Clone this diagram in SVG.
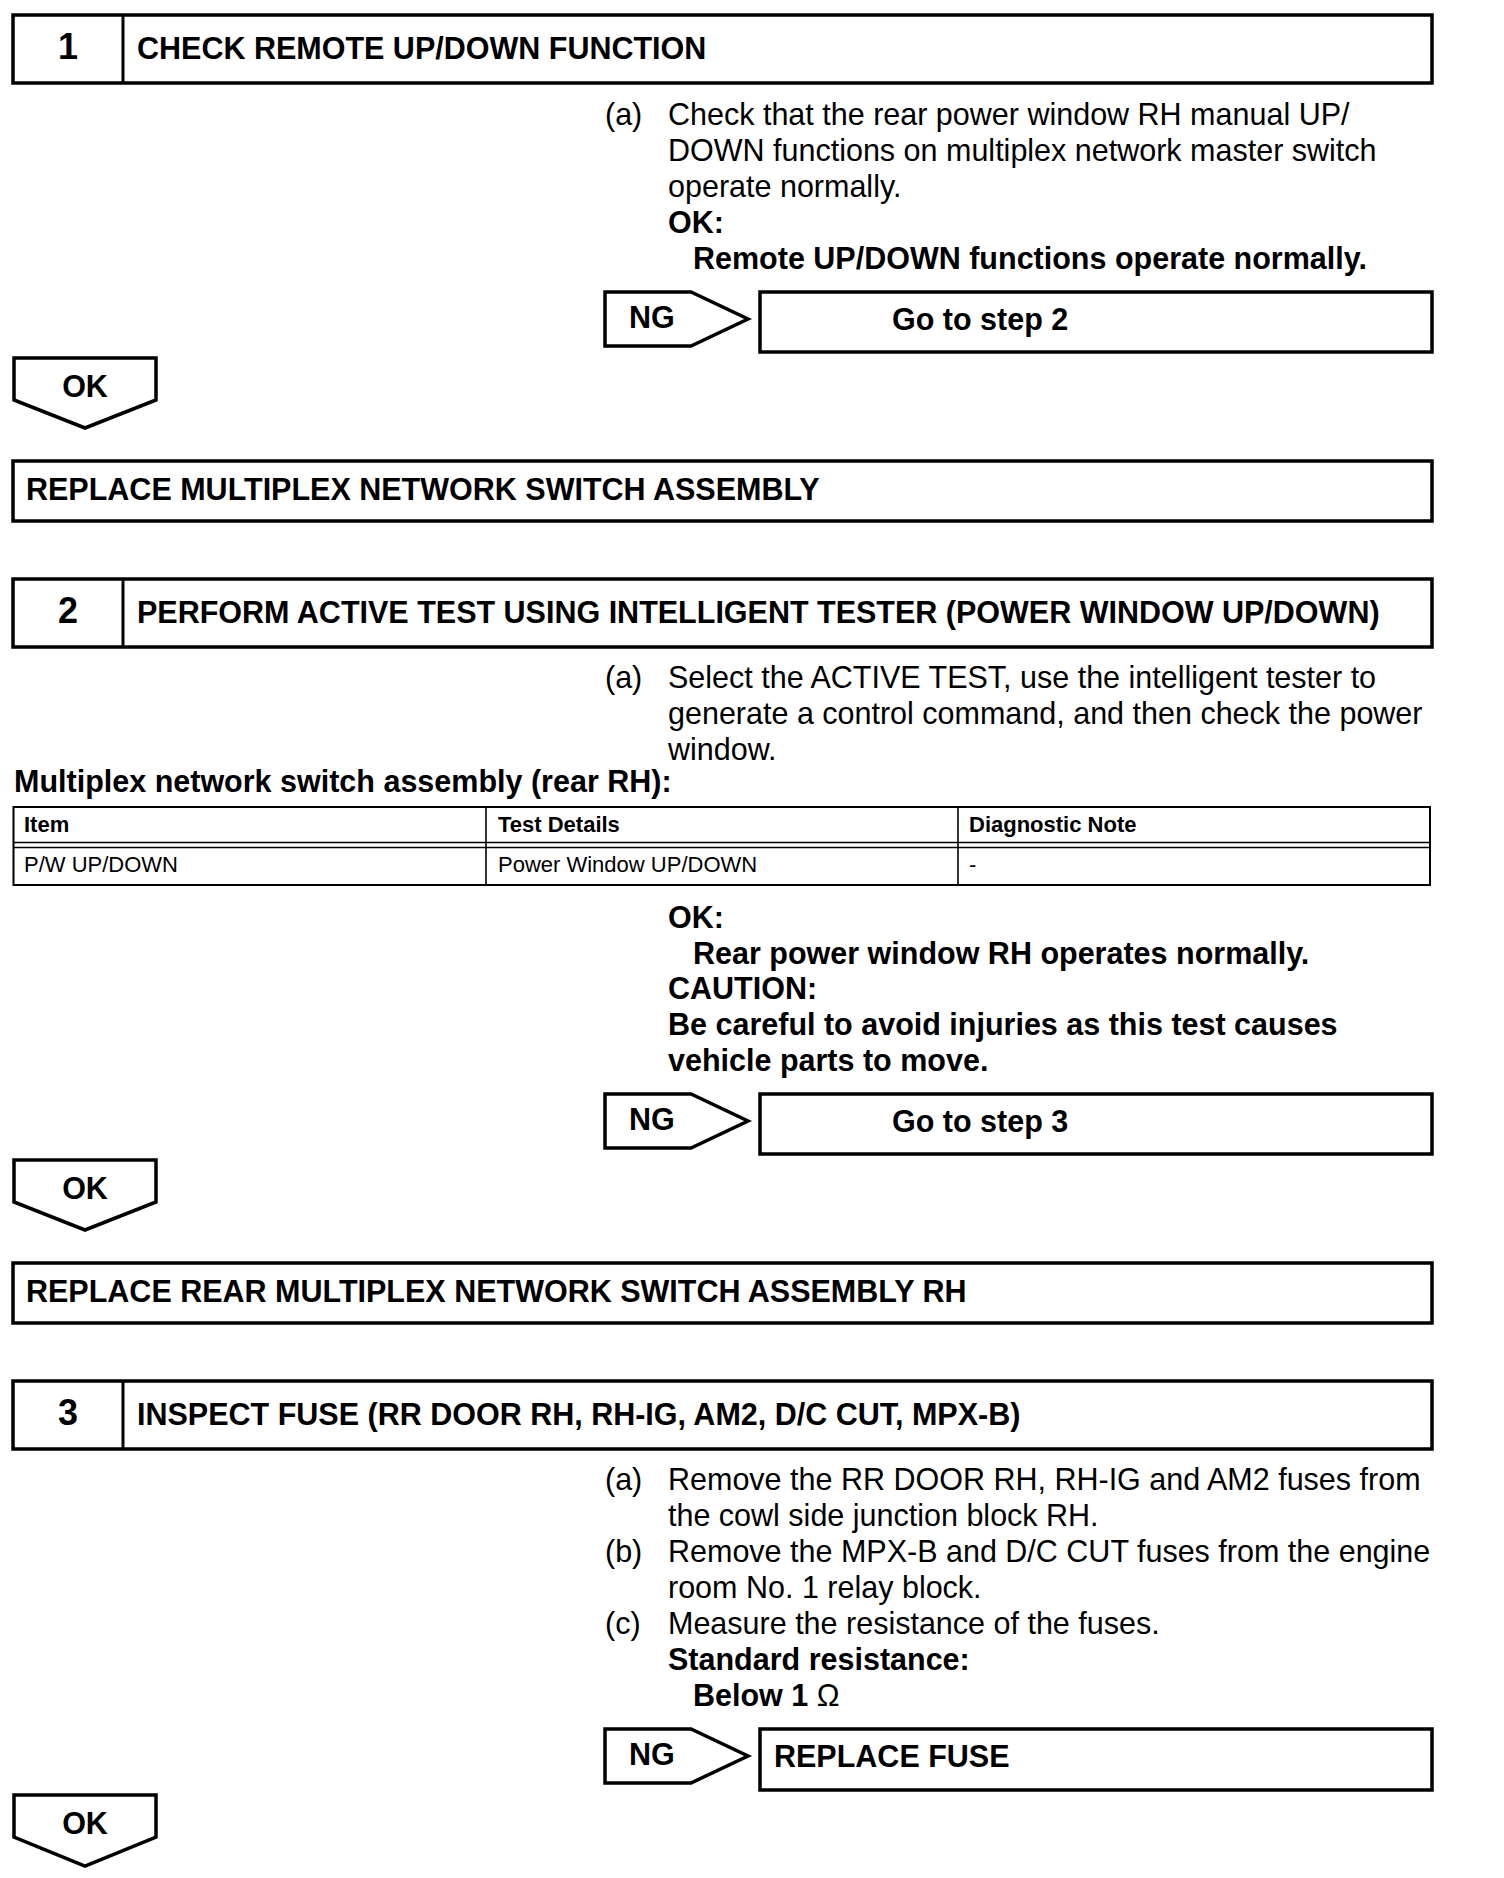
<svg xmlns="http://www.w3.org/2000/svg" width="1504" height="1878" viewBox="0 0 1504 1878">
<style>
text{font-family:"Liberation Sans",Arial,sans-serif;fill:#000}
.n{font-size:36px;font-weight:bold}
.h{font-size:30.5px;font-weight:bold}
.b{font-size:30.5px}
.bb{font-size:30.5px;font-weight:bold}
.t{font-size:22px}
.tb{font-size:22px;font-weight:bold}
.box{fill:#fff;stroke:#000;stroke-width:3.5}
.thin{fill:none;stroke:#000;stroke-width:2}
.tl{stroke:#000;stroke-width:1.6}
</style>
<rect width="1504" height="1878" fill="#fff"/>

<g id="step1-header">
<rect class="box" x="13" y="15" width="1419" height="68"/>
<line x1="123" y1="15" x2="123" y2="83" stroke="#000" stroke-width="3"/>
<text class="n" x="68" y="59" text-anchor="middle">1</text>
<text class="h" x="137" y="58.5">CHECK REMOTE UP/DOWN FUNCTION</text>
</g>
<g id="step1-text">
<text class="b" x="605" y="125">(a)</text>
<text class="b" x="668" y="125">Check that the rear power window RH manual UP/</text>
<text class="b" x="668" y="161">DOWN functions on multiplex network master switch</text>
<text class="b" x="668" y="197">operate normally.</text>
<text class="bb" x="668" y="233">OK:</text>
<text class="bb" x="693" y="269">Remote UP/DOWN functions operate normally.</text>
</g>
<g id="step1-ng">
<polygon class="box" points="605,292 691,292 748,319 691,346 605,346"/>
<text class="h" x="629" y="328">NG</text>
</g>
<g id="step1-ng-result">
<rect class="box" x="760" y="292" width="672" height="60"/>
<text class="h" x="892" y="330">Go to step 2</text>
</g>
<g id="step1-ok">
<polygon class="box" points="14,358 156,358 156,400 85,428 14,400"/>
<text class="h" x="85" y="397" text-anchor="middle">OK</text>
</g>
<g id="step1-ok-result">
<rect class="box" x="13" y="461" width="1419" height="60"/>
<text class="h" x="26" y="500">REPLACE MULTIPLEX NETWORK SWITCH ASSEMBLY</text>
</g>

<g id="step2-header">
<rect class="box" x="13" y="579" width="1419" height="68"/>
<line x1="123" y1="579" x2="123" y2="647" stroke="#000" stroke-width="3"/>
<text class="n" x="68" y="623" text-anchor="middle">2</text>
<text class="h" x="137" y="622.5">PERFORM ACTIVE TEST USING INTELLIGENT TESTER (POWER WINDOW UP/DOWN)</text>
</g>
<g id="step2-text">
<text class="b" x="605" y="688">(a)</text>
<text class="b" x="668" y="688">Select the ACTIVE TEST, use the intelligent tester to</text>
<text class="b" x="668" y="724">generate a control command, and then check the power</text>
<text class="b" x="668" y="760">window.</text>
<text class="bb" x="14" y="792">Multiplex network switch assembly (rear RH):</text>
</g>
<g id="step2-table">
<rect class="thin" x="13.5" y="807" width="1416.5" height="78"/>
<line class="tl" x1="13.5" y1="842.5" x2="1430" y2="842.5"/>
<line class="tl" x1="13.5" y1="847.5" x2="1430" y2="847.5"/>
<line class="tl" x1="486" y1="807" x2="486" y2="885"/>
<line class="tl" x1="958" y1="807" x2="958" y2="885"/>
<text class="tb" x="24" y="832">Item</text>
<text class="tb" x="498" y="832">Test Details</text>
<text class="tb" x="969" y="832">Diagnostic Note</text>
<text class="t" x="24" y="872">P/W UP/DOWN</text>
<text class="t" x="498" y="872">Power Window UP/DOWN</text>
<text class="t" x="969" y="872">-</text>
</g>
<g id="step2-ok-text">
<text class="bb" x="668" y="928">OK:</text>
<text class="bb" x="693" y="964">Rear power window RH operates normally.</text>
<text class="bb" x="668" y="999">CAUTION:</text>
<text class="bb" x="668" y="1035">Be careful to avoid injuries as this test causes</text>
<text class="bb" x="668" y="1071">vehicle parts to move.</text>
</g>
<g id="step2-ng">
<polygon class="box" points="605,1094 691,1094 748,1121 691,1148 605,1148"/>
<text class="h" x="629" y="1130">NG</text>
</g>
<g id="step2-ng-result">
<rect class="box" x="760" y="1094" width="672" height="60"/>
<text class="h" x="892" y="1132">Go to step 3</text>
</g>
<g id="step2-ok">
<polygon class="box" points="14,1160 156,1160 156,1202 85,1230 14,1202"/>
<text class="h" x="85" y="1199" text-anchor="middle">OK</text>
</g>
<g id="step2-ok-result">
<rect class="box" x="13" y="1263" width="1419" height="60"/>
<text class="h" x="26" y="1302">REPLACE REAR MULTIPLEX NETWORK SWITCH ASSEMBLY RH</text>
</g>

<g id="step3-header">
<rect class="box" x="13" y="1381" width="1419" height="68"/>
<line x1="123" y1="1381" x2="123" y2="1449" stroke="#000" stroke-width="3"/>
<text class="n" x="68" y="1425" text-anchor="middle">3</text>
<text class="h" x="137" y="1424.5">INSPECT FUSE (RR DOOR RH, RH-IG, AM2, D/C CUT, MPX-B)</text>
</g>
<g id="step3-text">
<text class="b" x="605" y="1490">(a)</text>
<text class="b" x="668" y="1490">Remove the RR DOOR RH, RH-IG and AM2 fuses from</text>
<text class="b" x="668" y="1526">the cowl side junction block RH.</text>
<text class="b" x="605" y="1562">(b)</text>
<text class="b" x="668" y="1562">Remove the MPX-B and D/C CUT fuses from the engine</text>
<text class="b" x="668" y="1598">room No. 1 relay block.</text>
<text class="b" x="605" y="1634">(c)</text>
<text class="b" x="668" y="1634">Measure the resistance of the fuses.</text>
<text class="bb" x="668" y="1670">Standard resistance:</text>
<text class="bb" x="693" y="1706">Below 1 <tspan font-weight="normal">Ω</tspan></text>
</g>
<g id="step3-ng">
<polygon class="box" points="605,1729 691,1729 748,1756 691,1783 605,1783"/>
<text class="h" x="629" y="1765">NG</text>
</g>
<g id="step3-ng-result">
<rect class="box" x="760" y="1729" width="672" height="61"/>
<text class="h" x="774" y="1767">REPLACE FUSE</text>
</g>
<g id="step3-ok">
<polygon class="box" points="14,1795 156,1795 156,1837 85,1866 14,1837"/>
<text class="h" x="85" y="1834" text-anchor="middle">OK</text>
</g>
<g id="connectors"/>
</svg>
